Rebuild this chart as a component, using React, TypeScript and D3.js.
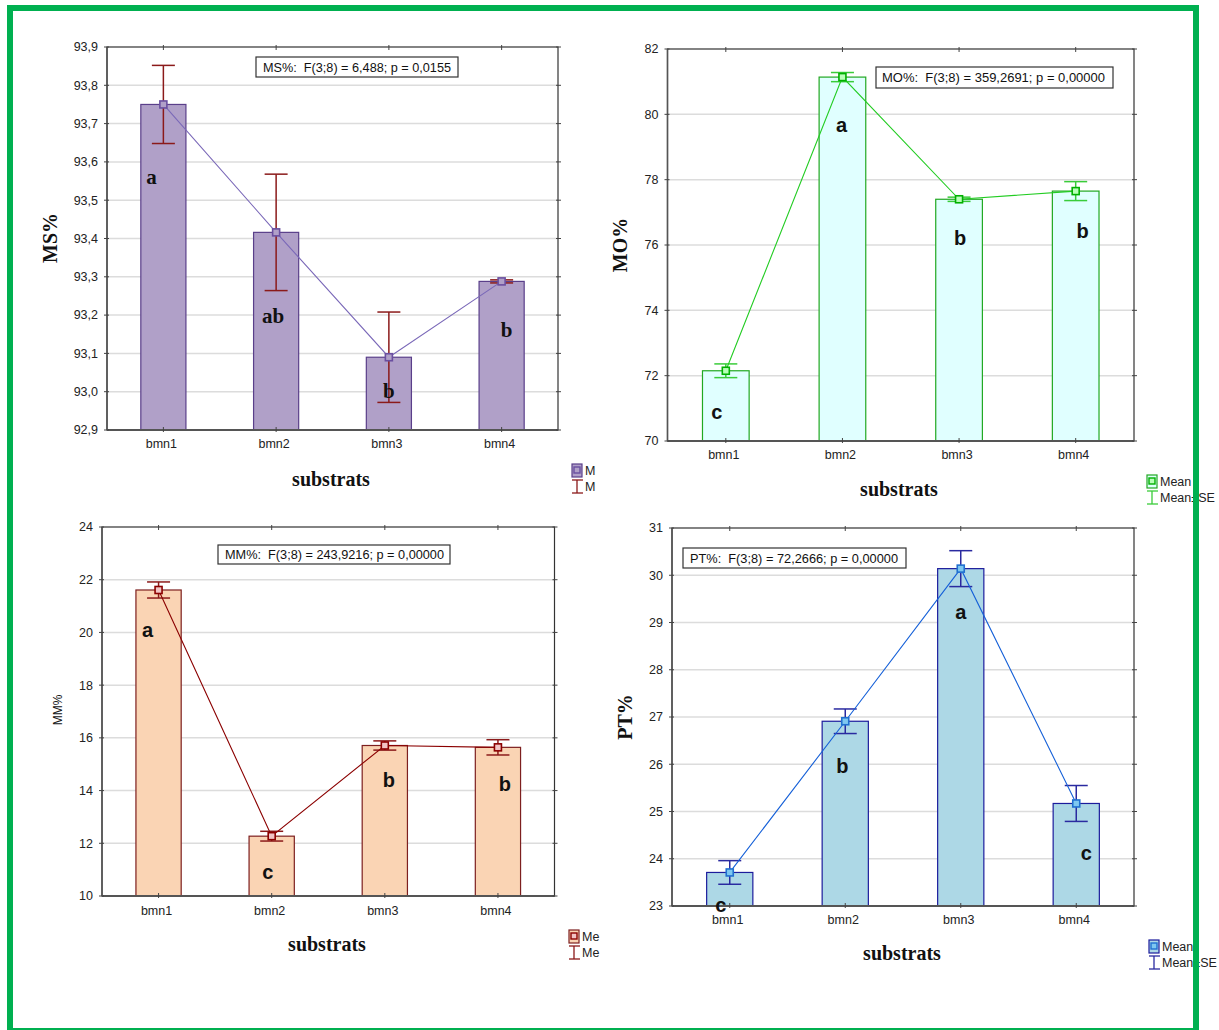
import React from 'react';
import * as d3 from 'd3';

// ---- data ----
const categories = ['bmn1', 'bmn2', 'bmn3', 'bmn4'];

const msMeans = [93.75, 93.416, 93.09, 93.288];
const msSE = [0.102, 0.152, 0.118, 0.004];
const msLetters = ['a', 'ab', 'b', 'b'];
const msTicks = [92.9, 93.0, 93.1, 93.2, 93.3, 93.4, 93.5, 93.6, 93.7, 93.8, 93.9];

const moMeans = [72.15, 81.14, 77.4, 77.65];
const moSE = [0.21, 0.14, 0.065, 0.29];
const moLetters = ['c', 'a', 'b', 'b'];
const moTicks = [70, 72, 74, 76, 78, 80, 82];

const mmMeans = [21.61, 12.27, 15.71, 15.64];
const mmSE = [0.305, 0.185, 0.175, 0.29];
const mmLetters = ['a', 'c', 'b', 'b'];
const mmTicks = [10, 12, 14, 16, 18, 20, 22, 24];

const ptMeans = [23.71, 26.91, 30.14, 25.17];
const ptSE = [0.25, 0.26, 0.38, 0.38];
const ptLetters = ['c', 'b', 'a', 'c'];
const ptTicks = [23, 24, 25, 26, 27, 28, 29, 30, 31];

const SANS = '"Liberation Sans", Arial, sans-serif';
const SERIF = '"Liberation Serif", "Times New Roman", serif';

const commaFmt = (digits: number) => (v: number) => d3.format(`.${digits}f`)(v).replace('.', ',');

type PanelCfg = {
  rect: [number, number, number, number]; // left, top, right, bottom
  ticks: number[];
  fmt: (v: number) => string;
  means: number[];
  se: number[];
  letters: string[];
  letterY: number[]; // baseline in data units
  letterDx: number[];
  letterFont: string;
  letterSize: number;
  colors: {
    barFill: string;
    barStroke: string;
    line: string;
    err: string;
    markFill: string;
    markStroke: string;
  };
  yLabel: { text: string; x: number; y: number; font: string; size: number; weight: string };
  stat: { text: string; box: [number, number, number, number]; textX: [number, number] };
  xTitleAt: [number, number];
  catDy: number;
  legend: { x: number; y: number; labels: [string, string] };
};

function Panel({ cfg }: { cfg: PanelCfg }) {
  const [l, t, r, b] = cfg.rect;
  const domain = d3.extent(cfg.ticks) as [number, number];
  const x = d3.scaleBand<string>().domain(categories).range([l, r]).paddingInner(0.6).paddingOuter(0.3);
  const y = d3.scaleLinear().domain(domain).range([b, t]);
  const cx = (c: string) => (x(c) as number) + x.bandwidth() / 2;
  const step = x.step();
  const c = cfg.colors;
  const line = d3
    .line<number>()
    .x((_, i) => cx(categories[i]))
    .y((v) => y(v));
  const cap = 11.5;
  const mk = 7;
  const lg = cfg.legend;

  return (
    <g>
      {/* grid */}
      {cfg.ticks.slice(1, -1).map((v) => (
        <line key={'g' + v} x1={l} x2={r} y1={y(v)} y2={y(v)} stroke="#dcdcdc" strokeWidth={1.5} />
      ))}
      {/* bars */}
      {categories.map((cat, i) => (
        <rect
          key={'b' + cat}
          x={x(cat)}
          y={y(cfg.means[i])}
          width={x.bandwidth()}
          height={b - y(cfg.means[i])}
          fill={c.barFill}
          stroke={c.barStroke}
          strokeWidth={1.2}
        />
      ))}
      {/* frame */}
      <rect x={l} y={t} width={r - l} height={b - t} fill="none" stroke="#333" strokeWidth={1.2} />
      <line x1={l} x2={r} y1={b} y2={b} stroke="#555" strokeWidth={2} />
      <line x1={l} x2={l} y1={t} y2={b} stroke="#555" strokeWidth={1.5} />
      {cfg.ticks.map((v) => (
        <g key={'t' + v}>
          <line x1={l - 3} x2={l + 2} y1={y(v)} y2={y(v)} stroke="#444" />
          <line x1={r - 2} x2={r + 3} y1={y(v)} y2={y(v)} stroke="#444" />
          <text
            x={l - 9}
            y={y(v)}
            dy="0.35em"
            textAnchor="end"
            fontFamily={SANS}
            fontSize={12.5}
            fill="#222"
          >
            {cfg.fmt(v)}
          </text>
        </g>
      ))}
      {categories.map((cat) => (
        <g key={'c' + cat}>
          <line x1={cx(cat)} x2={cx(cat)} y1={t - 2} y2={t + 3} stroke="#444" />
          <line x1={cx(cat)} x2={cx(cat)} y1={b - 3} y2={b + 2} stroke="#444" />
          <text x={cx(cat) - 2} y={b + cfg.catDy} textAnchor="middle" fontFamily={SANS} fontSize={12.5} fill="#222">
            {cat}
          </text>
        </g>
      ))}
      {/* error bars */}
      {categories.map((cat, i) => {
        const lo = y(cfg.means[i] - cfg.se[i]);
        const hi = y(cfg.means[i] + cfg.se[i]);
        const xc = cx(cat);
        return (
          <g key={'e' + cat} stroke={c.err} strokeWidth={1.5}>
            <line x1={xc} x2={xc} y1={lo} y2={hi} />
            <line x1={xc - cap} x2={xc + cap} y1={lo} y2={lo} />
            <line x1={xc - cap} x2={xc + cap} y1={hi} y2={hi} />
          </g>
        );
      })}
      {/* mean line and markers */}
      <path d={line(cfg.means) || ''} fill="none" stroke={c.line} strokeWidth={1.1} />
      {categories.map((cat, i) => (
        <rect
          key={'m' + cat}
          x={cx(cat) - mk / 2}
          y={y(cfg.means[i]) - mk / 2}
          width={mk}
          height={mk}
          fill={c.markFill}
          stroke={c.markStroke}
          strokeWidth={1.6}
        />
      ))}
      {/* group letters */}
      {categories.map((cat, i) => (
        <text
          key={'l' + cat}
          x={cx(cat) + cfg.letterDx[i]}
          y={y(cfg.letterY[i])}
          textAnchor="middle"
          fontFamily={cfg.letterFont}
          fontWeight="bold"
          fontSize={cfg.letterSize}
          fill="#111"
        >
          {cfg.letters[i]}
        </text>
      ))}
      {/* statistics box */}
      <rect
        x={cfg.stat.box[0]}
        y={cfg.stat.box[1]}
        width={cfg.stat.box[2] - cfg.stat.box[0]}
        height={cfg.stat.box[3] - cfg.stat.box[1]}
        fill="#fff"
        stroke="#333"
        strokeWidth={1.2}
      />
      <text
        x={cfg.stat.textX[0]}
        y={(cfg.stat.box[1] + cfg.stat.box[3]) / 2}
        dy="0.36em"
        fontFamily={SANS}
        fontSize={12.5}
        fill="#111"
        textLength={cfg.stat.textX[1] - cfg.stat.textX[0]}
        lengthAdjust="spacingAndGlyphs"
        style={{ whiteSpace: 'pre' }}
      >
        {cfg.stat.text}
      </text>
      {/* axis titles */}
      <text
        transform={`translate(${cfg.yLabel.x},${cfg.yLabel.y}) rotate(-90)`}
        textAnchor="middle"
        dy="0.35em"
        fontFamily={cfg.yLabel.font}
        fontWeight={cfg.yLabel.weight}
        fontSize={cfg.yLabel.size}
        fill="#111"
      >
        {cfg.yLabel.text}
      </text>
      <text
        x={cfg.xTitleAt[0]}
        y={cfg.xTitleAt[1]}
        textAnchor="middle"
        fontFamily={SERIF}
        fontWeight="bold"
        fontSize={20}
        fill="#111"
      >
        substrats
      </text>
      {/* legend */}
      <g>
        <rect x={lg.x} y={lg.y} width={10} height={13} fill={c.barFill} stroke={c.barStroke} strokeWidth={1.2} />
        <rect x={lg.x + 2} y={lg.y + 3} width={6} height={6} fill={c.markFill} stroke={c.markStroke} strokeWidth={1.4} />
        <text x={lg.x + 13} y={lg.y + 11} fontFamily={SANS} fontSize={12.5} fill="#222">
          {lg.labels[0]}
        </text>
        <g stroke={c.err} strokeWidth={1.3}>
          <line x1={lg.x + 5} x2={lg.x + 5} y1={lg.y + 16} y2={lg.y + 29} />
          <line x1={lg.x} x2={lg.x + 11} y1={lg.y + 16} y2={lg.y + 16} />
          <line x1={lg.x} x2={lg.x + 11} y1={lg.y + 29} y2={lg.y + 29} />
        </g>
        <text x={lg.x + 13} y={lg.y + 27} fontFamily={SANS} fontSize={12.5} fill="#222" style={{ whiteSpace: 'pre' }}>
          {lg.labels[1]}
        </text>
      </g>
    </g>
  );
}

const panels: PanelCfg[] = [
  {
    rect: [107, 47, 558, 430],
    ticks: msTicks,
    fmt: commaFmt(1),
    means: msMeans,
    se: msSE,
    letters: msLetters,
    letterY: [93.542, 93.179, 92.984, 93.143],
    letterDx: [-12, -3, 0, 5],
    letterFont: SERIF,
    letterSize: 21,
    colors: {
      barFill: '#b0a0c8',
      barStroke: '#5a3f8a',
      line: '#7a68b8',
      err: '#8b1a1a',
      markFill: '#b0a0c8',
      markStroke: '#6a4fa0',
    },
    yLabel: { text: 'MS%', x: 50, y: 238, font: SERIF, size: 20, weight: 'bold' },
    stat: { text: 'MS%:  F(3;8) = 6,488; p = 0,0155', box: [256, 57, 458, 77], textX: [263, 451] },
    xTitleAt: [331, 486],
    catDy: 18,
    legend: { x: 572, y: 464, labels: ['M', 'M'] },
  },
  {
    rect: [667.5, 49, 1134, 441],
    ticks: moTicks,
    fmt: commaFmt(0),
    means: moMeans,
    se: moSE,
    letters: moLetters,
    letterY: [70.67, 79.46, 76.0, 76.21],
    letterDx: [-9, -1, 1, 7],
    letterFont: SANS,
    letterSize: 20,
    colors: {
      barFill: '#e0ffff',
      barStroke: '#22a822',
      line: '#22cc22',
      err: '#3acc3a',
      markFill: '#b8ffb8',
      markStroke: '#00b000',
    },
    yLabel: { text: 'MO%', x: 620, y: 245, font: SERIF, size: 20, weight: 'bold' },
    stat: { text: 'MO%:  F(3;8) = 359,2691; p = 0,00000', box: [876, 67, 1113, 88], textX: [882, 1105] },
    xTitleAt: [899, 496],
    catDy: 18,
    legend: { x: 1147, y: 475, labels: ['Mean', 'Mean±SE'] },
  },
  {
    rect: [102, 527, 554.5, 896],
    ticks: mmTicks,
    fmt: commaFmt(0),
    means: mmMeans,
    se: mmSE,
    letters: mmLetters,
    letterY: [19.83, 10.65, 14.14, 13.99],
    letterDx: [-11, -4, 4, 7],
    letterFont: SANS,
    letterSize: 20,
    colors: {
      barFill: '#fad4b4',
      barStroke: '#7d1f1f',
      line: '#8b0000',
      err: '#8b1a1a',
      markFill: '#f2c4c4',
      markStroke: '#8b0000',
    },
    yLabel: { text: 'MM%', x: 58, y: 710, font: SANS, size: 12, weight: 'normal' },
    stat: { text: 'MM%:  F(3;8) = 243,9216; p = 0,00000', box: [218, 545, 450, 564], textX: [225, 444] },
    xTitleAt: [327, 951],
    catDy: 19,
    legend: { x: 569, y: 930, labels: ['Me', 'Me'] },
  },
  {
    rect: [672, 528, 1134, 906],
    ticks: ptTicks,
    fmt: commaFmt(0),
    means: ptMeans,
    se: ptSE,
    letters: ptLetters,
    letterY: [22.88, 25.82, 29.07, 23.97],
    letterDx: [-9, -3, 0, 10],
    letterFont: SANS,
    letterSize: 20,
    colors: {
      barFill: '#add8e6',
      barStroke: '#1c1c9c',
      line: '#1560d8',
      err: '#2a2aa0',
      markFill: '#7ec8f0',
      markStroke: '#2070d0',
    },
    yLabel: { text: 'PT%', x: 625, y: 717, font: SERIF, size: 20, weight: 'bold' },
    stat: { text: 'PT%:  F(3;8) = 72,2666; p = 0,00000', box: [683, 548, 906, 568], textX: [690, 898] },
    xTitleAt: [902, 960],
    catDy: 18,
    legend: { x: 1149, y: 940, labels: ['Mean', 'Mean±SE'] },
  },
];

export default function App() {
  return (
    <svg
      width={1219}
      height={1030}
      viewBox="0 0 1219 1030"
      style={{ position: 'absolute', left: 0, top: 0, background: '#fff' }}
    >
      <rect x={0} y={0} width={1219} height={1030} fill="#fff" />
      {panels.map((p, i) => (
        <Panel key={i} cfg={p} />
      ))}
      {/* outer frame */}
      <rect x={10} y={8} width={1186} height={1023} fill="none" stroke="#00b050" strokeWidth={6} />
    </svg>
  );
}
